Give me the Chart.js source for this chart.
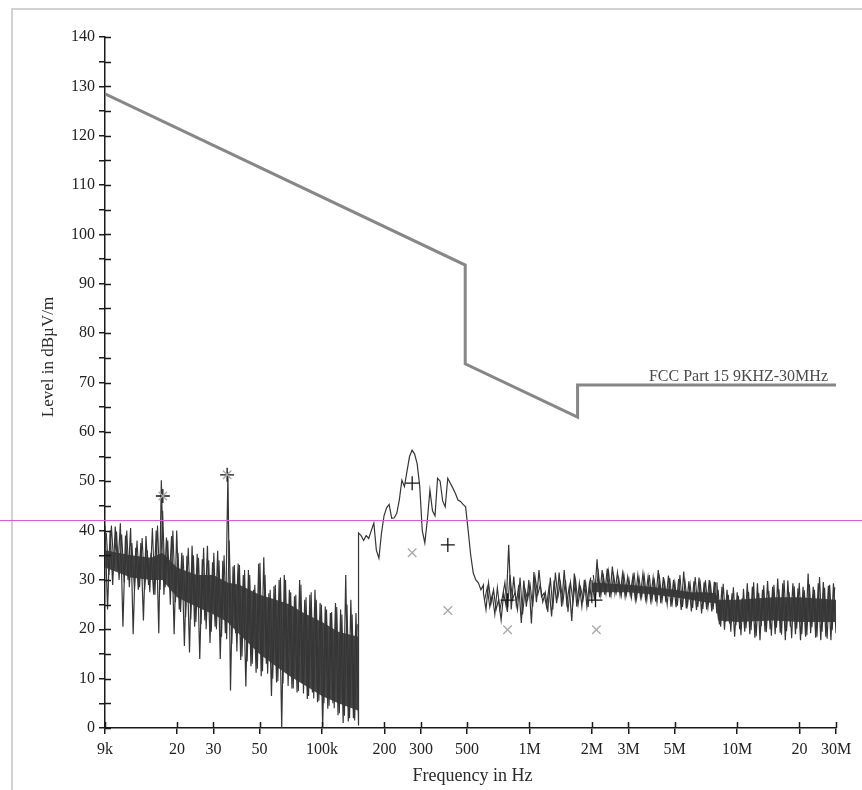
<!DOCTYPE html>
<html>
<head>
<meta charset="utf-8">
<script src="https://cdn.jsdelivr.net/npm/chart.js@4.4.1/dist/chart.umd.min.js"></script>
<style>
  html, body { margin: 0; padding: 0; background: #fff; }
  canvas { display: block; }
</style>
</head>
<body>
<canvas id="emi" width="862" height="790"></canvas>
<script>
// limit line (FCC Part 15, 9kHz-30MHz)
const limitFreq = [9e3, 490e3, 490e3, 1.705e6, 1.705e6, 30e6];
const limitLevel = [128.5, 93.8, 73.8, 63.0, 69.5, 69.5];

// sweep bands: each band's levels are spread over its start/stop frequency
const bandEdges = [9e3, 150e3, 600e3, 2e6, 8e6, 30e6];
const levelsA = [
    41, 24, 40, 29, 40.8, 32, 41.5, 20.5, 39, 30,
    40.5, 19, 36.5, 28, 37.5, 21.8, 38.9, 29, 35.5, 27,
    40, 19.2, 50.2, 27, 38.6, 28.7, 38.9, 19, 40, 24,
    35.5, 16.6, 34.9, 15.3, 36.9, 20.5, 35.3, 14, 34.2, 21.8,
    36.9, 17.2, 33.6, 20.5, 35.9, 14, 33.9, 19.2, 51.8, 7.6,
    32.7, 19.2, 33.3, 13.8, 31, 8.4, 32, 12.5, 28, 11.2,
    33.3, 10.5, 34.6, 13, 27.3, 6.5, 28.7, 9.2, 30, 0,
    31, 11.2, 28, 8, 26.7, 7.2, 30, 9, 26, 5.9,
    27, 7.2, 28, 5.2, 25.3, 0, 24.6, 3.9, 23.3, 5,
    25.3, 2.6, 24, 1, 31, 1.3, 26, 2, 23.3, 0.5
];
const levelsB = [
    39.5, 39, 38, 39, 38.4, 40, 41.5, 36, 34.4, 39.5,
    43, 44.6, 45.3, 42.5, 42.6, 43.5, 46.2, 50.2, 48.9, 52,
    55, 56.3, 55.5, 53.5, 49, 40, 37.5, 42.2, 48.2, 44,
    43, 50.6, 50, 46, 44.8, 50.6, 49.6, 48.6, 47.5, 46.2,
    45.9, 45.3, 44.8, 40, 35, 31.4, 30, 29.4, 28, 29
];
const levelsC = [
    27.3, 24, 29.4, 25.3, 28, 24, 26, 21.9, 27.3, 24.6,
    37.1, 24, 30.7, 25, 29, 21.3, 29.9, 24.6, 30, 21.2,
    31.6, 25.5, 32, 26.6, 27.3, 24.6, 28.6, 22.6, 29.9, 25.3,
    31.5, 24.6, 32, 25.3, 28.6, 21.7, 31.3, 24.6, 29.3, 24.6,
    30, 24.6, 29.3, 25.3
];
const levelsD = [
    30, 26, 34.2, 26.5, 32, 27, 32.3, 26.5, 32.7, 27.3,
    31.5, 27, 31.3, 26.6, 30.6, 27, 30.6, 26, 31, 26.6,
    31.3, 26.2, 30.6, 25.9, 30.5, 25.6, 32, 25.3, 30.6, 25.5,
    30.9, 24.6, 30, 24.5, 30.2, 23.9, 31.7, 24.2, 29.7, 23.6,
    29.7, 23.9, 30.5, 23.2, 29.5, 24, 30, 23.6, 29.6, 23.2
];
const levelsE = [
    29.5, 21, 28.6, 19.9, 28, 21.2, 27.3, 18.5, 27.5, 20,
    26.3, 19.5, 29.3, 19, 28.6, 18.3, 29.3, 17.8, 28, 19.5,
    29.8, 20, 28.6, 19, 30.3, 19.3, 29.3, 17.8, 29.9, 20.5,
    29.3, 19, 28.3, 17.8, 28.6, 18.5, 31.3, 19.2, 28.6, 18.3,
    29.3, 17.8, 29.6, 18.5, 28.8, 17.8, 29.3, 19.2
];
// second pass of the same sweep, sampled half a step later
const levelsA2 = [
    39.5, 31, 41, 32.5, 39.8, 30, 39.2, 29.5, 40, 28.5,
    37.5, 28, 38, 28.5, 38.5, 28, 36, 27.5, 40.5, 27,
    41, 28, 44, 28.5, 38, 25, 40, 25.5, 35.5, 23.5,
    35, 22.5, 36.5, 22, 35, 21.5, 34.5, 21, 36.5, 20,
    34, 19.5, 35.5, 20, 34, 18.5, 35, 18, 38, 17,
    33, 15.5, 33, 14.5, 32, 13.5, 31, 13, 29, 12,
    33.5, 11.5, 31, 11, 28, 10, 29, 9.5, 30.5, 9,
    30, 8.5, 27.5, 8, 27, 7.5, 29, 7, 26.5, 6.5,
    27.5, 6, 26, 5.5, 25, 5, 24, 4.5, 23.5, 4,
    24.5, 3, 23, 2.5, 25, 2, 23, 1.5, 21
];
const levelsC2 = [
    26, 28.5, 24.5, 27, 23, 28.5, 24, 26.5, 29.5, 23.5,
    31, 26, 27.5, 24, 30.5, 23, 28, 26, 29, 24.5,
    30.5, 27, 29, 25.5, 27.5, 23.5, 30.5, 24, 31.5, 26.5,
    29.5, 25.5, 30, 23.5, 29.5, 25.5, 30, 25, 28.5, 26,
    29.5, 24.5, 30.5
];
const levelsD2 = [
    31, 27, 31.5, 26.8, 30.8, 27.2, 31.8, 26.9, 31, 27.4,
    30.4, 26.8, 31.2, 27, 30.2, 26.4, 31.5, 26.2, 30.3, 26.5,
    30.8, 25.8, 31, 25.7, 29.8, 25.4, 30.5, 25.8, 29.6, 25,
    30.4, 25.3, 29.5, 24.8, 31, 24.5, 29.6, 24.9, 29.2, 24.3,
    30.6, 24.5, 29.3, 24.1, 29.9, 24.4, 29.1, 24, 29.5
];
const levelsE2 = [
    28, 20.5, 29.2, 21.5, 27, 19.5, 28.5, 20.8, 26.8, 18.8,
    28.2, 20.2, 27.6, 19.8, 29.5, 18.6, 27.4, 20.6, 28.9, 19.4,
    27.8, 18.7, 29, 20.3, 28.1, 18.9, 30, 19.6, 27.5, 18.2,
    28.7, 20.1, 29.4, 19, 27.9, 18.8, 29.1, 20.4, 28, 18.5,
    30.6, 19.5, 28.4, 18.1, 29, 19.8, 28.5
];
const bandLevels = [levelsA, levelsB, levelsC, levelsD, levelsE];
const bandLevels2 = [levelsA2, null, levelsC2, levelsD2, levelsE2];

// dense core of the scan (where the trace looks solid)
const lowCoreFreq = [9e3, 12e3, 15e3, 17e3, 20e3, 25e3, 30e3, 35e3, 40e3, 50e3, 60e3, 70e3, 80e3, 100e3, 120e3, 150e3];
const lowCoreTop = [36, 35, 34.5, 35.5, 32.5, 31, 31, 29.5, 29, 27, 26, 25, 23.5, 21.5, 19.5, 18.5];
const lowCoreBottom = [32.5, 30.5, 30, 30, 26.5, 24.5, 23, 21.5, 19, 15, 12.5, 10.5, 9, 6.5, 5, 3.5];
const highCoreFreq = [2e6, 3e6, 4e6, 5e6, 6e6, 7e6, 7.9e6, 8.1e6, 10e6, 15e6, 20e6, 30e6];
const highCoreTop = [29.5, 29, 28.5, 28, 27.5, 27.5, 27.3, 26, 26, 26.5, 26.5, 26];
const highCoreBottom = [27.5, 27.5, 27, 26.5, 26, 25.5, 25.3, 21.8, 21.5, 21.8, 21.5, 21.5];

// final measurement markers
const peakFreq = [17.1e3, 34.9e3, 272e3, 404e3, 784e3, 2.08e6];
const peakLevel = [47, 51.3, 49.6, 37.1, 25.9, 25.9];
const avgFreq = [17.1e3, 34.9e3, 272e3, 404e3, 784e3, 2.1e6];
const avgLevel = [47, 51.3, 35.5, 23.8, 19.9, 19.9];

const markerLevel = 42.1; // magenta reference line

const xTickValues = [9e3, 20e3, 30e3, 50e3, 100e3, 200e3, 300e3, 500e3, 1e6, 2e6, 3e6, 5e6, 10e6, 20e6, 30e6];
const xTickLabels = ['9k', '20', '30', '50', '100k', '200', '300', '500', '1M', '2M', '3M', '5M', '10M', '20', '30M'];

// build the traces from the bands (second pass starts half a step in and
// is broken between its bands)
function buildTrace(bands, shift) {
    const out = [];
    bands.forEach((lv, b) => {
        if (!lv) return;
        const f0 = bandEdges[b], f1 = bandEdges[b + 1];
        const n = shift ? lv.length : lv.length - 1;
        lv.forEach((v, i) => {
            out.push({ x: f0 * Math.pow(f1 / f0, (i + shift) / n), y: v });
        });
        if (shift) out.push({ x: f1, y: null });
    });
    return out;
}
const trace = buildTrace(bandLevels, 0);
const trace2 = buildTrace(bandLevels2, 0.5);

const pairs = (xs, ys) => xs.map((x, i) => ({ x: x, y: ys[i] }));

const serif = '"Liberation Serif", "DejaVu Serif", serif';
const coreColor = '#474747';
const traceColor = '#363636';

function core(data, fill) {
    return {
        data: data,
        borderColor: coreColor,
        borderWidth: 0,
        backgroundColor: coreColor,
        fill: fill,
        pointRadius: 0,
        tension: 0,
        order: 4
    };
}

// frame, magenta line, inner tick halves, axis titles
const decor = {
    id: 'decor',
    beforeDraw(chart) {
        const ctx = chart.ctx;
        ctx.save();
        ctx.fillStyle = '#fff';
        ctx.fillRect(0, 0, chart.width, chart.height);
        ctx.strokeStyle = '#d2d2d2';
        ctx.lineWidth = 2;
        ctx.beginPath();
        ctx.moveTo(12, chart.height);
        ctx.lineTo(12, 9);
        ctx.lineTo(chart.width, 9);
        ctx.stroke();
        ctx.restore();
    },
    afterDraw(chart) {
        const ctx = chart.ctx;
        const xs = chart.scales.x, ys = chart.scales.y;
        const a = chart.chartArea;
        ctx.save();
        ctx.strokeStyle = '#1a1a1a';
        ctx.lineWidth = 1.5;
        ctx.beginPath();
        xs.ticks.forEach(t => {
            const px = Math.round(xs.getPixelForValue(t.value)) + 0.5;
            ctx.moveTo(px, a.bottom);
            ctx.lineTo(px, a.bottom - 6);
        });
        ys.ticks.forEach(t => {
            const py = Math.round(ys.getPixelForValue(t.value)) + 0.5;
            ctx.moveTo(a.left, py);
            ctx.lineTo(a.left + 6, py);
        });
        ctx.stroke();

        // magenta line runs across the whole page
        const my = Math.round(ys.getPixelForValue(markerLevel)) + 0.5;
        ctx.strokeStyle = '#dc5adc';
        ctx.lineWidth = 1;
        ctx.beginPath();
        ctx.moveTo(0, my);
        ctx.lineTo(chart.width, my);
        ctx.stroke();

        ctx.fillStyle = '#2a2a2a';
        ctx.font = '18px ' + serif;
        ctx.textAlign = 'center';
        ctx.textBaseline = 'middle';
        ctx.fillText('Frequency in Hz', (a.left + a.right) / 2 + 2, 776);
        ctx.translate(49, 357);
        ctx.rotate(-Math.PI / 2);
        ctx.font = '17px ' + serif;
        ctx.fillText('Level in dBµV/m', 0, 0);
        ctx.restore();

        ctx.save();
        ctx.fillStyle = '#4a4a4a';
        ctx.font = '16px ' + serif;
        ctx.textAlign = 'right';
        ctx.textBaseline = 'alphabetic';
        ctx.fillText('FCC Part 15 9KHZ-30MHz', 828, ys.getPixelForValue(limitLevel[5]) - 4);
        ctx.restore();
    }
};

new Chart(document.getElementById('emi'), {
    type: 'line',
    data: {
        datasets: [
            {
                label: 'FCC Part 15 9KHZ-30MHz',
                data: pairs(limitFreq, limitLevel),
                borderColor: '#878787',
                borderWidth: 3,
                pointRadius: 0,
                tension: 0,
                order: 1
            },
            {
                label: 'Scan',
                data: trace,
                borderColor: traceColor,
                borderWidth: 1.2,
                pointRadius: 0,
                tension: 0,
                order: 2
            },
            {
                label: 'Scan (2nd pass)',
                data: trace2,
                borderColor: traceColor,
                borderWidth: 1.1,
                pointRadius: 0,
                tension: 0,
                order: 3
            },
            {
                label: 'Average',
                data: pairs(avgFreq, avgLevel),
                showLine: false,
                pointStyle: 'crossRot',
                pointRadius: 6,
                borderColor: '#a8a8a8',
                borderWidth: 1.3,
                order: 0
            },
            {
                label: 'Peak',
                data: pairs(peakFreq, peakLevel),
                showLine: false,
                pointStyle: 'cross',
                pointRadius: 7,
                borderColor: '#151515',
                borderWidth: 1.3,
                order: 0
            },
            core(pairs(lowCoreFreq, lowCoreTop), '+1'),
            core(pairs(lowCoreFreq, lowCoreBottom), false),
            core(pairs(highCoreFreq, highCoreTop), '+1'),
            core(pairs(highCoreFreq, highCoreBottom), false)
        ]
    },
    options: {
        responsive: false,
        animation: false,
        devicePixelRatio: 1,
        layout: { padding: { top: 37, right: 26, bottom: 0, left: 0 } },
        plugins: {
            legend: { display: false },
            tooltip: { enabled: false }
        },
        scales: {
            x: {
                type: 'logarithmic',
                min: 9e3,
                max: 30e6,
                afterBuildTicks: s => { s.ticks = xTickValues.map(v => ({ value: v })); },
                afterFit: s => { s.height = 62; },
                grid: { drawOnChartArea: false, drawTicks: true, tickLength: 6, color: '#1a1a1a', lineWidth: 1.5 },
                border: { color: '#1a1a1a', width: 1.5 },
                ticks: {
                    autoSkip: false,
                    maxRotation: 0,
                    padding: 6,
                    color: '#222',
                    font: { family: serif, size: 16 },
                    callback: v => xTickLabels[xTickValues.indexOf(v)]
                }
            },
            y: {
                min: 0,
                max: 140,
                afterFit: s => { s.width = 105; },
                grid: { drawOnChartArea: false, drawTicks: true, tickLength: 6, color: '#1a1a1a', lineWidth: 1.5 },
                border: { color: '#1a1a1a', width: 1.5 },
                ticks: {
                    stepSize: 5,
                    padding: 4,
                    color: '#222',
                    font: { family: serif, size: 16 },
                    callback: v => (v % 10 === 0 ? v : '')
                }
            }
        }
    },
    plugins: [decor]
});
</script>
</body>
</html>
